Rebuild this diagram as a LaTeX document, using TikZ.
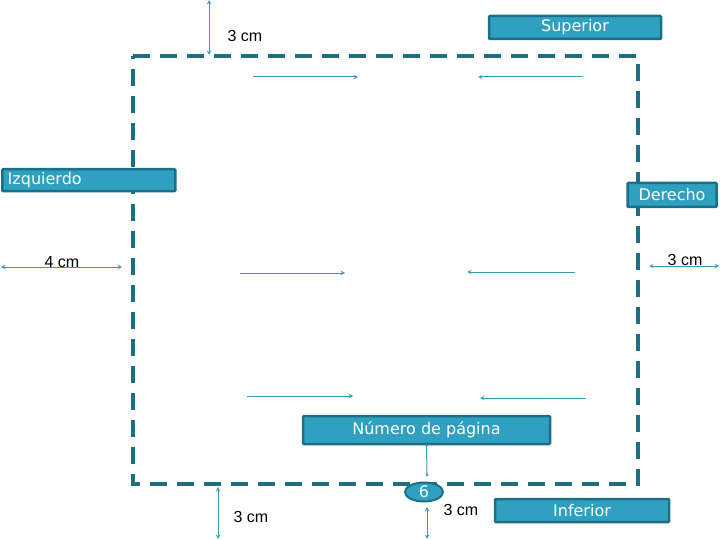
\documentclass[tikz,border=0pt]{standalone}
\usepackage{fontspec}
\setmainfont{Liberation Sans}
\newfontfamily\boxfont{DejaVu Sans}
\usetikzlibrary{shapes.geometric}
\begin{document}
\begin{tikzpicture}[x=1pt,y=-1pt,
  lbl/.style={draw=boxborder,line width=2.5pt,fill=boxfill,text=white,font=\boxfont\fontsize{16}{18}\selectfont,inner sep=0pt,rounded corners=1pt},
  thin/.style={draw=thinc,line width=1pt},
  arr/.style={thin,-stealth},
  dim/.style={thin,stealth-stealth},
  txt/.style={font=\fontsize{16}{18}\selectfont,inner sep=0pt}]
\definecolor{boxfill}{HTML}{2FA0BF}
\definecolor{boxborder}{HTML}{1B6F86}
\definecolor{dashc}{HTML}{1F6E82}
\definecolor{thinc}{HTML}{3A9AB0}
\useasboundingbox (0,0) rectangle (720,540);
\draw[dashc,line width=4pt,dash pattern=on 17pt off 10pt] (133,56) -- (638,56) -- (638,484) -- (133,484) -- cycle;
% boxes
\node[lbl,minimum width=172pt,minimum height=23pt] (sup) at (575,27.5) {Superior};
\node[lbl,minimum width=173pt,minimum height=22pt,anchor=north west,text width=168pt,align=left] (izq) at (1,168) {\hspace{3pt}Izquierdo};
\node[lbl,minimum width=89pt,minimum height=24pt] (der) at (672,195) {Derecho};
\node[lbl,minimum width=247pt,minimum height=28pt] (num) at (426.5,430) {Número de página};
\node[lbl,minimum width=174pt,minimum height=23pt] (inf) at (582,510.5) {Inferior};
\node[ellipse,draw=boxborder,line width=2pt,fill=boxfill,text=white,font=\boxfont\fontsize{16}{18}\selectfont,minimum width=38pt,minimum height=19pt,inner sep=0pt] (six) at (424,492) {6};
% dimensions
\coordinate (t1) at (209,0); \coordinate (t2) at (209,55);
\draw[dim] (t1) -- (t2);
\node[txt] (l1) at (245,36) {3 cm};
\coordinate (a1) at (1,267); \coordinate (a2) at (122,267);
\draw[dim] (a1) -- (a2);
\node[txt] (l2) at (62,262) {4 cm};
\coordinate (b1) at (649,266); \coordinate (b2) at (719,266);
\draw[dim] (b1) -- (b2);
\node[txt] (l3) at (685,260) {3 cm};
\coordinate (c1) at (218,487); \coordinate (c2) at (218,539);
\draw[dim] (c1) -- (c2);
\node[txt] (l4) at (251,517) {3 cm};
\coordinate (d1) at (427,507); \coordinate (d2) at (427,539);
\draw[dim] (d1) -- (d2);
\node[txt] (l5) at (461,510) {3 cm};
\coordinate (n1) at (427,475);
\draw[thin] (num.south) -- (n1);
\fill[thinc] (num.south) circle (1.5pt) (n1) circle (1.5pt);
% inner arrows
\coordinate (p1) at (253,77); \coordinate (p2) at (358,77);
\coordinate (p3) at (583,77); \coordinate (p4) at (478,77);
\coordinate (p5) at (240,273); \coordinate (p6) at (345,273);
\coordinate (p7) at (575,272); \coordinate (p8) at (467,272);
\coordinate (p9) at (247,396); \coordinate (p10) at (353,396);
\coordinate (p11) at (586,398); \coordinate (p12) at (480,398);
\draw[arr] (p1) -- (p2);
\draw[arr] (p3) -- (p4);
\draw[arr] (p5) -- (p6);
\draw[arr] (p7) -- (p8);
\draw[arr] (p9) -- (p10);
\draw[arr] (p11) -- (p12);
\end{tikzpicture}
\end{document}
